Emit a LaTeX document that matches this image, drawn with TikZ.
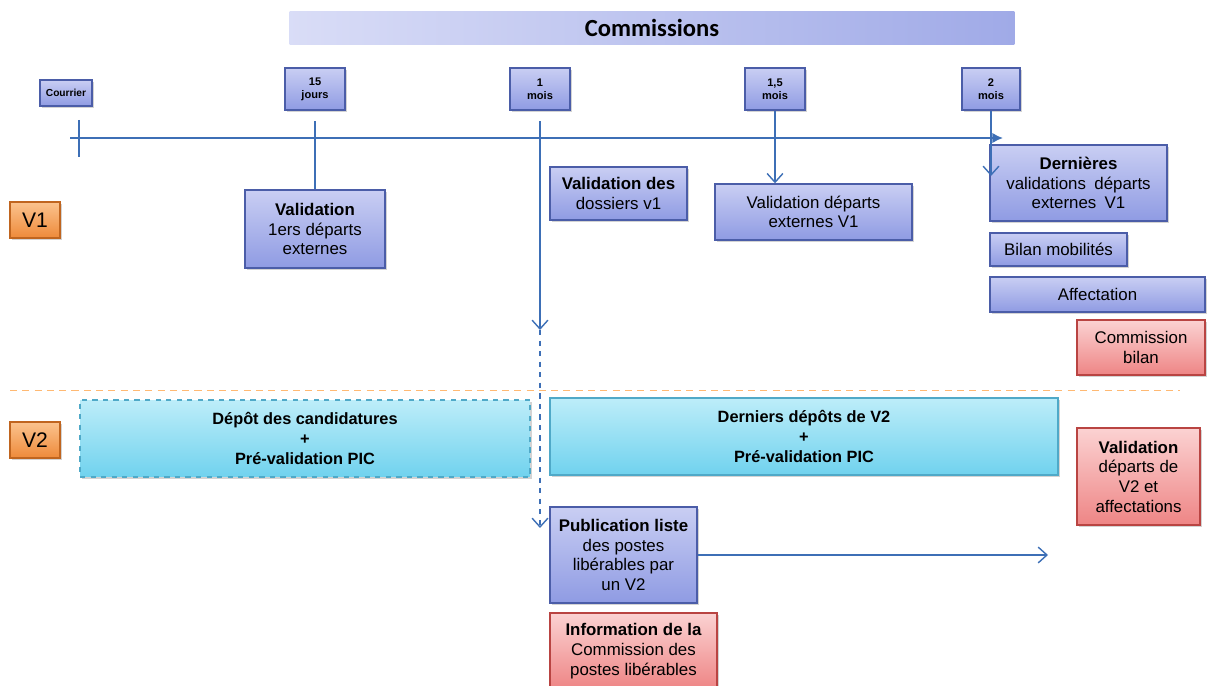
\documentclass[tikz,border=0pt]{standalone}
\usepackage{fontspec}
\setmainfont{Liberation Sans}
\newfontfamily\titrefont{Carlito}
\usepackage{tikz}
\usetikzlibrary{arrows.meta,shadows,positioning}
\definecolor{bordbleu}{HTML}{4B5DA8}
\definecolor{bleuhaut}{HTML}{C9CEF3}
\definecolor{bleubas}{HTML}{8F9BE3}
\definecolor{bordcyan}{HTML}{4FA9C8}
\definecolor{cyanhaut}{HTML}{BDEDF9}
\definecolor{cyanbas}{HTML}{70D2EE}
\definecolor{bordrouge}{HTML}{B94442}
\definecolor{rougehaut}{HTML}{FBD2D2}
\definecolor{rougebas}{HTML}{EE8585}
\definecolor{bordorange}{HTML}{C0651F}
\definecolor{orangehaut}{HTML}{FBC38E}
\definecolor{orangebas}{HTML}{EE8A3A}
\definecolor{axebleu}{HTML}{3D6FB6}
\tikzset{
  ombre/.style={drop shadow={opacity=0.35,shadow xshift=1.2pt,shadow yshift=-1.2pt}},
  etape/.style={draw=bordbleu,thick,top color=bleuhaut,bottom color=bleubas,ombre,align=center,
    inner sep=2pt,font=\fontsize{9.6}{11.2}\selectfont},
  depot/.style={draw=bordcyan,thick,top color=cyanhaut,bottom color=cyanbas,ombre,align=center,
    inner sep=2pt,font=\fontsize{9.3}{11.2}\selectfont\bfseries},
  commission/.style={draw=bordrouge,thick,top color=rougehaut,bottom color=rougebas,ombre,align=center,
    inner sep=2pt,font=\fontsize{9.6}{11.2}\selectfont},
  version/.style={draw=bordorange,thick,top color=orangehaut,bottom color=orangebas,ombre,
    minimum width=1cm,minimum height=0.72cm,font=\fontsize{12}{14}\selectfont},
  jalon/.style={draw=bordbleu,thick,top color=bleuhaut,bottom color=bleubas,ombre,align=center,
    minimum width=1.2cm,minimum height=0.84cm,inner sep=1pt,font=\fontsize{6.3}{7.5}\selectfont\bfseries},
  trait/.style={axebleu,thick},
  fleche/.style={trait,-{Straight Barb[length=5pt,width=9pt]}},
  axe/.style={axebleu,line width=1.6pt,-{Latex[length=6pt,width=6pt]}}
}

\begin{document}
\begin{tikzpicture}[x=0.02cm,y=-0.02cm]
\useasboundingbox (0,0) rectangle (1214,686);
% bandeau
\node[left color=bleuhaut!70!white,right color=bleubas!85,minimum width=14.5cm,minimum height=0.66cm,
  font=\titrefont\fontsize{14}{16}\selectfont\bfseries] (titre) at (652,28) {Commissions};
% jalons
\node[jalon,minimum width=1.04cm,minimum height=0.52cm,font=\fontsize{5.8}{7}\selectfont\bfseries] (courrier) at (66,93) {Courrier};
\node[jalon] (j15) at (315,89) {15\\jours};
\node[jalon] (m1) at (540,89) {1\\mois};
\node[jalon] (m15) at (775,89) {1,5\\mois};
\node[jalon,minimum width=1.16cm] (m2) at (991,89) {2\\mois};
% axe du temps
\coordinate (debut) at (70,138);
\coordinate (fin) at (1003,138);
\draw[axe] (debut) -- (fin);
\draw[trait] (79,120) -- (79,157);
% V1
\node[version] (v1) at (35,220) {V1};
\node[etape,minimum width=2.8cm,minimum height=1.56cm] (val1) at (315,229) {\textbf{Validation}\\1ers départs\\externes};
\node[etape,minimum width=2.74cm,minimum height=1.06cm] (valdos) at (618.5,193.5) {\textbf{Validation des}\\dossiers v1};
\node[etape,minimum width=3.94cm,minimum height=1.12cm] (valext) at (813.5,212) {Validation départs\\externes V1};
\node[etape,minimum width=3.54cm,minimum height=1.52cm] (dern) at (1078.5,183) {\textbf{Dernières}\\validations\enspace départs\\externes\enspace V1};
\node[etape,minimum width=2.74cm,minimum height=0.66cm] (bilan) at (1058.5,249.5) {Bilan mobilités};
\node[etape,minimum width=4.3cm,minimum height=0.7cm] (affect) at (1097.5,294.5) {Affectation};
\node[commission,minimum width=2.56cm,minimum height=1.1cm] (combilan) at (1141,347.5) {Commission\\bilan};
% separation
\draw[orange!55,dash pattern=on 4pt off 3pt] (10,390) -- (1180,390);
% V2
\node[version] (v2) at (35,440) {V2};
\node[depot,dashed,minimum width=9cm,minimum height=1.54cm] (depotcand) at (305,438.5) {Dépôt des candidatures\\+\\Pré-validation PIC};
\node[depot,minimum width=10.16cm,minimum height=1.54cm] (derndep) at (804,436.5) {Derniers dépôts de V2\\+\\Pré-validation PIC};
\node[commission,minimum width=2.46cm,minimum height=1.94cm] (valv2) at (1138.5,476.5) {\textbf{Validation}\\départs de\\V2 et\\affectations};
\node[etape,minimum width=2.94cm,minimum height=1.92cm] (publi) at (623.5,555) {\textbf{Publication liste}\\des postes\\libérables par\\un V2};
\node[commission,minimum width=3.34cm,minimum height=1.52cm] (info) at (633.5,651) {\textbf{Information de la}\\Commission des\\postes libérables};
% liaisons
\coordinate (m1bas) at (540,330);
\coordinate (m1fin) at (540,528);
\coordinate (m2fin) at (991,176);
\coordinate (publifin) at (1048,555);
\draw[trait,shorten <=6pt] (j15.south) -- (j15.south |- val1.north);
\draw[fleche,shorten <=6pt] (m1.south) -- (m1bas);
\draw[fleche,dashed] (m1bas) -- (m1fin);
\draw[fleche] (m15.south) -- (m15.south |- valext.north);
\draw[fleche] (m2.south) -- (m2fin);
\draw[fleche] (publi.east) -- (publifin);
\end{tikzpicture}
\end{document}
